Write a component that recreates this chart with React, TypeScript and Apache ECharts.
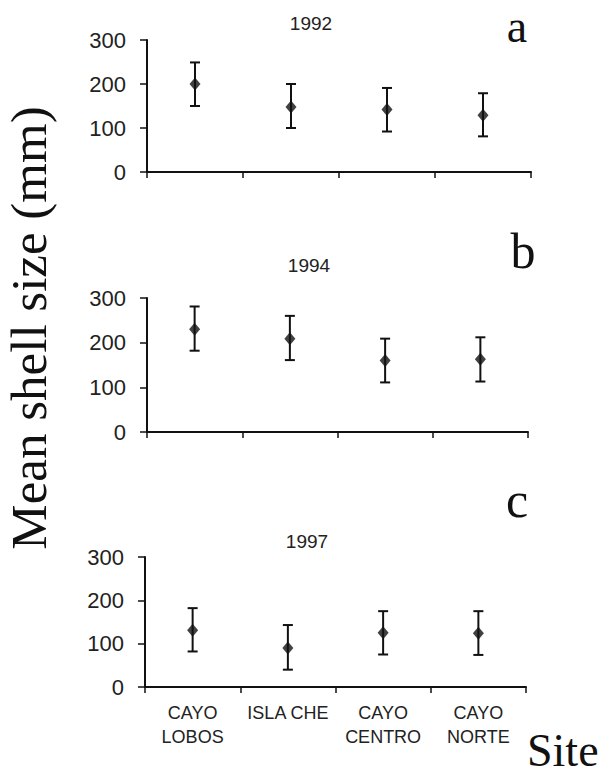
import React, { useEffect, useRef } from "react";
import * as echarts from "echarts";

const categories = ["CAYO\nLOBOS", "ISLA CHE", "CAYO\nCENTRO", "CAYO\nNORTE"];
const years = ["1992", "1994", "1997"];
const panelLetters = ["a", "b", "c"];

const mean1992 = [200, 148, 142, 129];
const low1992 = [150, 100, 92, 81];
const high1992 = [249, 200, 191, 179];

const mean1994 = [230, 209, 160, 163];
const low1994 = [182, 161, 111, 113];
const high1994 = [281, 260, 209, 212];

const mean1997 = [131, 90, 125, 124];
const low1997 = [82, 40, 75, 74];
const high1997 = [182, 143, 175, 175];

const yTicks = [0, 100, 200, 300];

const means = [mean1992, mean1994, mean1997];
const lows = [low1992, low1994, low1997];
const highs = [high1992, high1994, high1997];

const INK = "#111";
const SANS = "'Liberation Sans', Arial, sans-serif";
const SERIF = "'Liberation Serif', 'Times New Roman', serif";

const grids = [
  { left: 147, top: 40, width: 384, height: 132 },
  { left: 147, top: 298, width: 381, height: 134 },
  { left: 145, top: 557, width: 381, height: 130 },
];
const yearPos = [
  [311, 23.5],
  [309, 265],
  [307, 541],
];
const letterPos = [
  [517, 26],
  [523, 251],
  [517, 500],
];
const letterSize = [46, 50, 50];

function buildOption(): any {
  const xAxis: any[] = [];
  const yAxis: any[] = [];
  const series: any[] = [];
  grids.forEach((g, i) => {
    xAxis.push({
      type: "category",
      gridIndex: i,
      data: categories,
      boundaryGap: true,
      axisLine: { lineStyle: { color: INK, width: 2 } },
      axisTick: { show: true, length: 6, lineStyle: { color: INK, width: 1.5 } },
      axisLabel: {
        show: i === 2,
        color: "#222",
        fontFamily: SANS,
        fontSize: 18,
        lineHeight: 24,
        margin: 14,
        interval: 0,
      },
      splitLine: { show: false },
    });
    yAxis.push({
      type: "value",
      gridIndex: i,
      min: yTicks[0],
      max: yTicks[yTicks.length - 1],
      interval: 100,
      axisLine: { show: true, lineStyle: { color: INK, width: 2 } },
      axisTick: { show: true, inside: false, length: 7, lineStyle: { color: INK, width: 1.5 } },
      axisLabel: { color: "#222", fontFamily: SANS, fontSize: 22, margin: 21 },
      splitLine: { show: false },
    });
    series.push({
      type: "custom",
      xAxisIndex: i,
      yAxisIndex: i,
      data: categories.map((_, k) => [k, lows[i][k], highs[i][k]]),
      encode: { x: 0, y: [1, 2] },
      renderItem: (params: any, api: any) => {
        const xi = api.value(0);
        const lo = api.coord([xi, api.value(1)]);
        const hi = api.coord([xi, api.value(2)]);
        const hw = 5;
        const style = { stroke: INK, lineWidth: 2, fill: "none" };
        return {
          type: "group",
          children: [
            { type: "line", shape: { x1: lo[0], y1: lo[1], x2: hi[0], y2: hi[1] }, style },
            { type: "line", shape: { x1: hi[0] - hw, y1: hi[1], x2: hi[0] + hw, y2: hi[1] }, style },
            { type: "line", shape: { x1: lo[0] - hw, y1: lo[1], x2: lo[0] + hw, y2: lo[1] }, style },
          ],
        };
      },
      z: 2,
    });
    series.push({
      type: "scatter",
      xAxisIndex: i,
      yAxisIndex: i,
      data: means[i],
      symbol: "diamond",
      symbolSize: [11, 13],
      itemStyle: { color: INK },
      z: 3,
    });
  });

  const graphic: any[] = [];
  years.forEach((y, i) => {
    graphic.push({
      type: "text",
      x: yearPos[i][0],
      y: yearPos[i][1],
      style: {
        text: y,
        fill: "#222",
        font: `19px ${SANS}`,
        align: "center",
        verticalAlign: "middle",
      },
    });
    graphic.push({
      type: "text",
      x: letterPos[i][0],
      y: letterPos[i][1],
      style: {
        text: panelLetters[i],
        fill: INK,
        font: `${letterSize[i]}px ${SERIF}`,
        lineHeight: 34,
        align: "center",
        verticalAlign: "middle",
      },
    });
  });
  graphic.push({
    type: "text",
    x: 29,
    y: 328,
    rotation: Math.PI / 2,
    style: {
      text: "Mean shell size (mm)",
      fill: INK,
      font: `51px ${SERIF}`,
      lineHeight: 40,
      align: "center",
      verticalAlign: "middle",
    },
  });
  graphic.push({
    type: "text",
    x: 527,
    y: 750,
    style: {
      text: "Site",
      fill: INK,
      font: `46px ${SERIF}`,
      lineHeight: 36,
      align: "left",
      verticalAlign: "middle",
    },
  });

  return {
    animation: false,
    backgroundColor: "#fff",
    grid: grids.map((g) => ({ ...g, containLabel: false })),
    xAxis,
    yAxis,
    series,
    graphic,
  };
}

export default function App() {
  const ref = useRef<HTMLDivElement>(null);
  useEffect(() => {
    if (!ref.current) return;
    const chart = echarts.init(ref.current, undefined, { renderer: "svg" });
    chart.setOption(buildOption());
    return () => chart.dispose();
  }, []);
  return (
    <div
      ref={ref}
      style={{ position: "absolute", left: 0, top: 0, width: 606, height: 777, background: "#fff" }}
    />
  );
}
